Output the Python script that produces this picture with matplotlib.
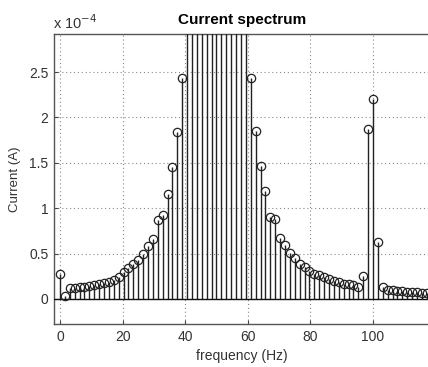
import matplotlib
matplotlib.use('Agg')
import matplotlib.pyplot as plt
import numpy as np

plt.rcParams['font.family'] = ['Liberation Sans', 'DejaVu Sans']

# frequency bins (Hz), spacing 1.5625 Hz
freq = [k * 1.5625 for k in range(76)]

# current amplitude in units of 1e-4 A
current_e4 = [
    0.27, 0.03, 0.125, 0.125, 0.13, 0.13, 0.14, 0.15, 0.16, 0.175,   # 0..9
    0.19, 0.21, 0.24, 0.30, 0.34, 0.38, 0.43, 0.50, 0.58, 0.66,     # 10..19
    0.87, 0.93, 1.16, 1.45, 1.84, 2.43,                             # 20..25
    3.3, 4.5, 6.5, 10.0, 18.0, 45.0, 1000.0, 45.0, 18.0, 10.0, 6.5, 4.5, 3.3,  # 26..38 (off scale)
    2.43, 1.85, 1.46, 1.19, 0.90, 0.88, 0.67, 0.59, 0.51, 0.45,     # 39..48
    0.39, 0.35, 0.31, 0.28, 0.26, 0.24, 0.22, 0.20, 0.19, 0.17,     # 49..58
    0.16, 0.15, 0.13, 0.25, 1.87, 2.20, 0.63, 0.13, 0.10, 0.095,    # 59..68
    0.09, 0.085, 0.08, 0.08, 0.075, 0.07, 0.07,                     # 69..75
]

xticks = [0, 20, 40, 60, 80, 100]
yticks = [0, 0.5, 1, 1.5, 2, 2.5]
ytick_labels = ['0', '0.5', '1', '1.5', '2', '2.5']

fig = plt.figure(figsize=(4.28, 3.67), dpi=100)
ax = fig.add_axes([54 / 428, 43 / 367, 376 / 428, 290 / 367])

ax.vlines(freq, 0, current_e4, colors='#222222', linewidth=1.0, zorder=3)
ax.plot(freq, current_e4, 'o', markersize=6, markerfacecolor='none',
        markeredgecolor='#222222', markeredgewidth=0.9, zorder=4)
ax.axhline(0, color='#111111', linewidth=1.0, zorder=3)

ax.set_xlim(-1.9, 118.2)
ax.set_ylim(-0.276, 2.92)
ax.set_xticks(xticks)
ax.set_yticks(yticks)
ax.set_yticklabels(ytick_labels)
ax.grid(True, linestyle=(0, (1, 2.5)), color='#888888', linewidth=0.8)
ax.tick_params(direction='in', length=3, labelsize=10, colors='#444444',
               labelcolor='#333333', pad=4)
for s in ax.spines.values():
    s.set_color('#555555')
    s.set_linewidth(1.0)

ax.set_title('Current spectrum', fontsize=11, fontweight='bold', pad=7)
ax.set_xlabel('frequency (Hz)', fontsize=10, color='#333333', labelpad=4)
ax.set_ylabel('Current (A)', fontsize=9.5, color='#333333', labelpad=6)
fig.text(53 / 428, 1 - 29 / 367, r'x 10$^{-4}$', fontsize=10.5, color='#333333')

fig.savefig('out.png', dpi=100)
plt.close()
